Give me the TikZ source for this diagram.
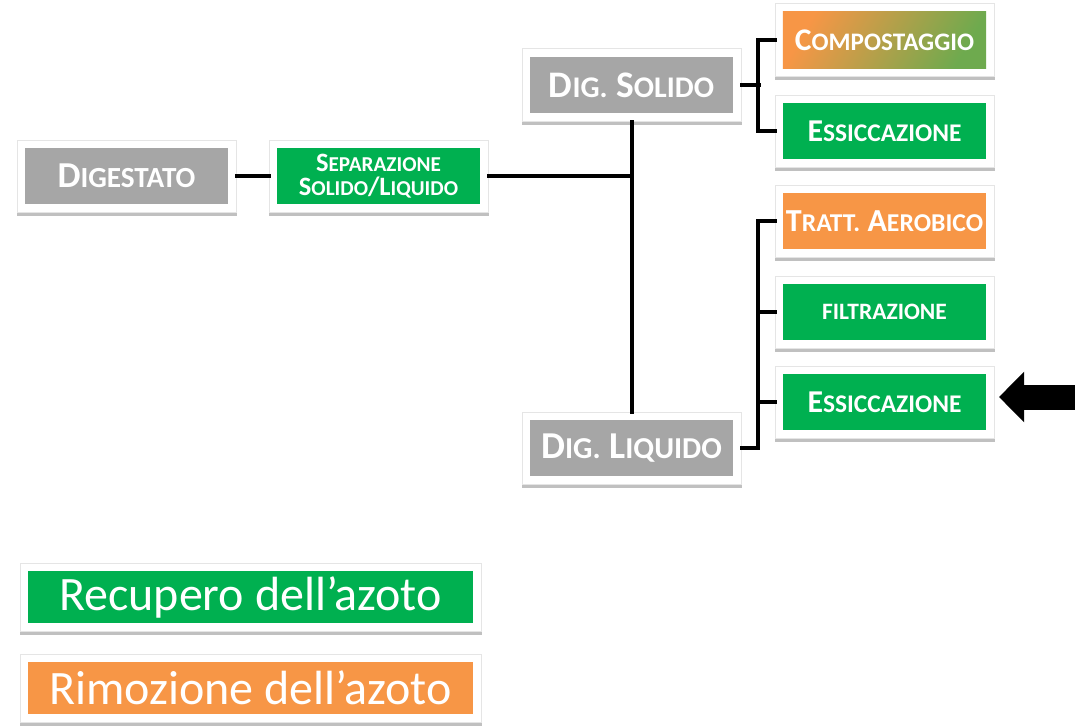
\documentclass[tikz,border=0pt]{standalone}
\usepackage{fontspec}
\usepackage{graphicx}
\setmainfont{Carlito}
\usetikzlibrary{fit,shadows,arrows.meta,backgrounds}
\definecolor{cgray}{HTML}{A6A6A6}
\definecolor{cgreen}{HTML}{00B050}
\definecolor{corange}{HTML}{F79646}
\definecolor{colive}{HTML}{6EAA4E}
\newcommand\fsc[2]{#1\scalebox{0.8}{#2}}
\newcommand\fsz[1]{\fontsize{#1}{#1}\selectfont}
\tikzset{
  cell/.style={rectangle, minimum width=203pt, minimum height=56pt, inner sep=0pt,
    text=white, align=center},
  legcell/.style={rectangle, minimum width=445pt, minimum height=52pt, inner sep=0pt,
    text=white, font=\fsz{48}},
  frame/.style={rectangle, fill=white, draw=black!10, line width=0.6pt, inner sep=8pt,
    drop shadow={shadow xshift=0.5pt, shadow yshift=-4pt, opacity=0.45, fill=black!55}},
  conn/.style={draw=black, line width=4pt, line cap=rect},
}
\begin{document}
\begin{tikzpicture}[x=1pt,y=-1pt]
\useasboundingbox (0,0) rectangle (1075,725);
% inner cells
\node[cell, fill=cgray, font=\bfseries\fsz{36.5}]  (dig)  at (126.5,176) {\fsc{D}{IGESTATO}};
\node[cell, fill=cgreen, font={\bfseries\fontsize{26.5}{24}\selectfont}] (sep)  at (378.5,176) {\fsc{S}{EPARAZIONE}\\\fsc{S}{OLIDO}/\fsc{L}{IQUIDO}};
\node[cell, fill=cgray, font=\bfseries\fsz{37.5}]  (sol)  at (631.5,85)  {\fsc{D}{IG.} \fsc{S}{OLIDO}};
\node[cell, fill=cgray, font=\bfseries\fsz{38}]  (liq)  at (631.5,448) {\fsc{D}{IG.} \fsc{L}{IQUIDO}};
\node[cell]              (comp) at (884.5,40)  {};
\node[cell, fill=cgreen, font=\bfseries\fsz{31.8}] (ess1) at (884.5,131) {\fsc{E}{SSICCAZIONE}};
\node[cell, fill=corange, font=\bfseries\fsz{32.1}](tratt) at (884.5,221) {\fsc{T}{RATT.} \fsc{A}{EROBICO}};
\node[cell, fill=cgreen, font=\bfseries\fsz{23.5}] (filt) at (884.5,312) {FILTRAZIONE};
\node[cell, fill=cgreen, font=\bfseries\fsz{31.8}] (ess2) at (884.5,402) {\fsc{E}{SSICCAZIONE}};
\node[legcell, fill=cgreen]  (leg1) at (250.5,597) {Recupero dell’azoto};
\node[legcell, fill=corange] (leg2) at (250.5,688) {Rimozione dell’azoto};
% frames behind
\begin{scope}[on background layer]
\foreach \n in {dig,sep,sol,liq,comp,ess1,tratt,filt,ess2,leg1,leg2}
  \node[frame, fit=(\n)] (\n-f) {};
\end{scope}
% gradient cell
\shade[left color=corange, right color=colive, shading angle=60]
  (comp.south west) rectangle (comp.north east);
\node[text=white, font=\bfseries\fsz{31.5}] (comp-t) at (comp) {\fsc{C}{OMPOSTAGGIO}};
% connectors
\coordinate (j) at (sol-f.south |- sep-f.east);
\draw[conn] (dig-f.east) -- (sep-f.west);
\draw[conn] (sep-f.east) -- (j);
\draw[conn] (sol-f.south) -- (liq-f.north);
\draw[conn] (sol-f.east) -- ++(17,0);
\draw[conn] (comp-f.west) -- ++(-17,0) |- (ess1-f.west);
\draw[conn] (tratt-f.west) -- ++(-17,0) |- (liq-f.east);
\draw[conn] (filt-f.west) -- ++(-17,0);
\draw[conn] (ess2-f.west) -- ++(-17,0);
% block arrow
\coordinate (aT) at (999,397);
\coordinate (aS) at (1075,397);
\draw[line width=25pt, -{Triangle[width=49pt,length=25pt]}] (aS) -- (aT);
\end{tikzpicture}
\end{document}
